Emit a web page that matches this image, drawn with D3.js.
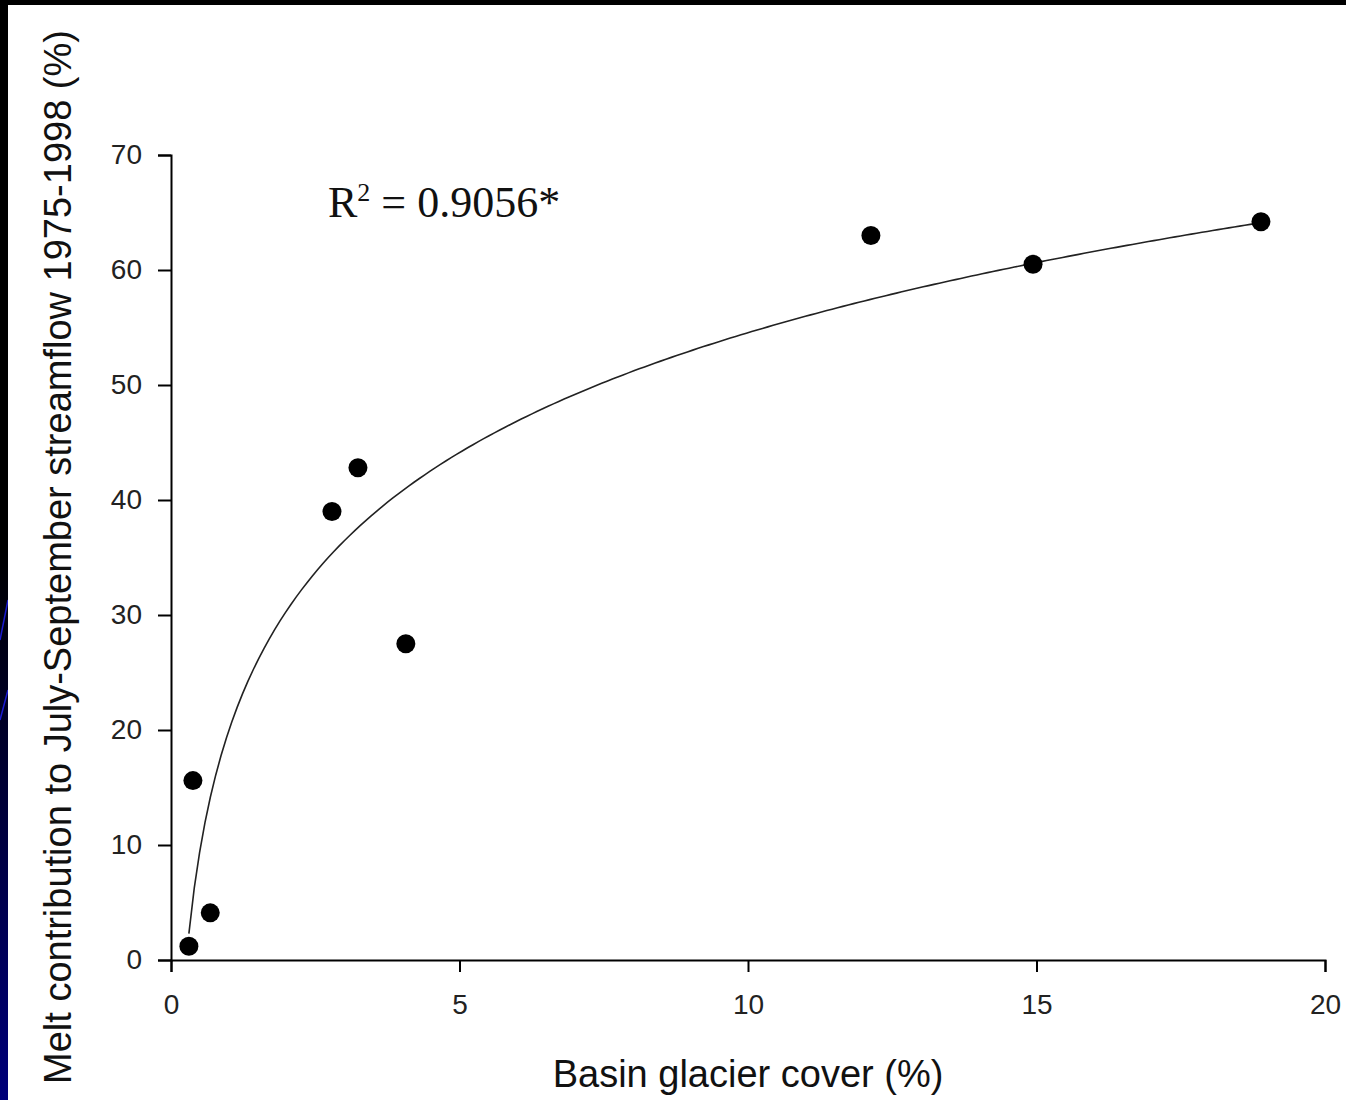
<!DOCTYPE html>
<html>
<head>
<meta charset="utf-8">
<script src="https://cdn.jsdelivr.net/npm/d3@7"></script>
<style>
  body { margin: 0; background: #000; }
  svg { display: block; }
  .axis path, .axis line { stroke: #000; stroke-width: 2px; }
  .axis text { font-family: "Liberation Sans", Arial, sans-serif; font-size: 28px; fill: #222; }
</style>
</head>
<body>
<div id="chartContainer"></div>
<script>
// glacier cover (%) and melt contribution (%) for each basin
const glacierCover = [0.31, 0.38, 0.68, 2.79, 3.24, 4.07, 12.13, 14.94, 18.89];
const meltShare = [1.2, 15.6, 4.1, 39.0, 42.8, 27.5, 63.0, 60.5, 64.2];
const xTicks = [0, 5, 10, 15, 20];
const yTicks = [0, 10, 20, 30, 40, 50, 60, 70];

const W = 1346, H = 1100;
const plot = { left: 171, right: 1325, top: 155, bottom: 960 };

const svg = d3.select("#chartContainer").append("svg")
  .attr("width", W)
  .attr("height", H);

// slide background: black frame, blue fade on the left strip
const defs = svg.append("defs");
const grad = defs.append("linearGradient")
  .attr("id", "sideFade")
  .attr("x1", 0).attr("y1", 0).attr("x2", 0).attr("y2", 1);
grad.append("stop").attr("offset", "0%").attr("stop-color", "#000");
grad.append("stop").attr("offset", "50%").attr("stop-color", "#000");
grad.append("stop").attr("offset", "100%").attr("stop-color", "#00007a");

svg.append("rect").attr("width", W).attr("height", H).attr("fill", "#000");
svg.append("rect").attr("x", 0).attr("y", 0).attr("width", 8).attr("height", H).attr("fill", "url(#sideFade)");
svg.append("line").attr("x1", 0).attr("y1", 640).attr("x2", 8).attr("y2", 600).attr("stroke", "#1a1ad0").attr("stroke-width", 1.5);
svg.append("line").attr("x1", 0).attr("y1", 720).attr("x2", 8).attr("y2", 690).attr("stroke", "#1a1ad0").attr("stroke-width", 1.5);
svg.append("rect").attr("x", 8).attr("y", 5).attr("width", W - 8).attr("height", H - 5).attr("fill", "#fff");

// scales
const x = d3.scaleLinear().domain([0, 20]).range([plot.left, plot.right]);
const y = d3.scaleLinear().domain([0, 70]).range([plot.bottom, plot.top]);

svg.append("g")
  .attr("class", "axis")
  .attr("transform", `translate(0, ${plot.bottom})`)
  .call(d3.axisBottom(x).tickValues(xTicks).tickSize(12).tickPadding(22))
  .selectAll("text").attr("dy", "0.71em");

svg.append("g")
  .attr("class", "axis")
  .attr("transform", `translate(${plot.left}, 0)`)
  .call(d3.axisLeft(y).tickValues(yTicks).tickSize(13).tickPadding(16));

// logarithmic trend line fitted to the points (least squares on ln x)
const pts = glacierCover.map((g, i) => [g, meltShare[i]]);
const lx = pts.map(p => Math.log(p[0]));
const mx = d3.mean(lx), my = d3.mean(meltShare);
const slope = d3.sum(lx, (l, i) => (l - mx) * (meltShare[i] - my)) / d3.sum(lx, l => (l - mx) * (l - mx));
const icpt = my - slope * mx;
const [x0, x1] = d3.extent(glacierCover);
const trend = d3.range(0, 201).map(i => {
  const g = x0 + (x1 - x0) * i / 200;
  return [g, slope * Math.log(g) + icpt];
});

svg.append("path")
  .datum(trend)
  .attr("fill", "none")
  .attr("stroke", "#222")
  .attr("stroke-width", 1.6)
  .attr("d", d3.line().x(d => x(d[0])).y(d => y(d[1])));

svg.selectAll("circle.dot")
  .data(pts)
  .enter()
  .append("circle")
  .attr("class", "dot")
  .attr("cx", d => x(d[0]))
  .attr("cy", d => y(d[1]))
  .attr("r", 9.5)
  .attr("fill", "#000");

// R squared note
const r2 = svg.append("text")
  .attr("x", 328)
  .attr("y", 217)
  .style("font-family", "\"Liberation Serif\", \"Times New Roman\", serif")
  .style("font-size", "44px")
  .style("fill", "#111");
r2.append("tspan").text("R");
r2.append("tspan").attr("dy", -16).style("font-size", "26px").text("2");
r2.append("tspan").attr("dy", 16).text(" = 0.9056*");

// axis titles
svg.append("text")
  .attr("x", (plot.left + plot.right) / 2 + 0)
  .attr("y", 1087)
  .attr("text-anchor", "middle")
  .style("font-family", "\"Liberation Sans\", Arial, sans-serif")
  .style("font-size", "38px")
  .style("fill", "#111")
  .text("Basin glacier cover (%)");

svg.append("text")
  .attr("transform", "translate(71, 557) rotate(-90)")
  .attr("text-anchor", "middle")
  .style("font-family", "\"Liberation Sans\", Arial, sans-serif")
  .style("font-size", "38px")
  .style("fill", "#111")
  .text("Melt contribution to July-September streamflow 1975-1998 (%)");
</script>
</body>
</html>
